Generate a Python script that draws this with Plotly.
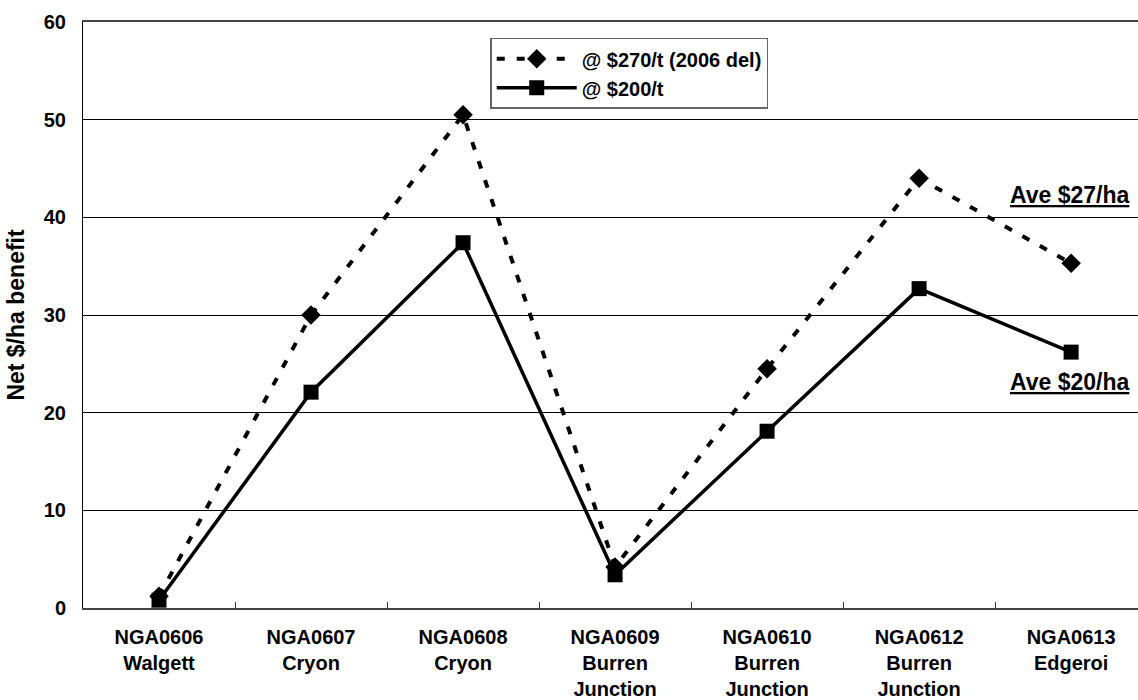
import plotly.graph_objects as go

# Trial sites (code + location)
sites = [
    "NGA0606<br>Walgett",
    "NGA0607<br>Cryon",
    "NGA0608<br>Cryon",
    "NGA0609<br>Burren<br>Junction",
    "NGA0610<br>Burren<br>Junction",
    "NGA0612<br>Burren<br>Junction",
    "NGA0613<br>Edgeroi",
]

# Net benefit ($/ha) at two grain prices
benefit_270 = [1.2, 30.0, 50.5, 4.2, 24.5, 44.0, 35.3]
benefit_200 = [0.8, 22.1, 37.4, 3.4, 18.1, 32.7, 26.2]

name_270 = "@ $270/t (2006 del)"
name_200 = "@ $200/t"
ave_270 = "Ave $27/ha"
ave_200 = "Ave $20/ha"

y_ticks = [0, 10, 20, 30, 40, 50, 60]

FONT = "Liberation Sans, Arial, sans-serif"
labels = ["<b>" + s + "</b>" for s in sites]

fig = go.Figure()
fig.add_trace(go.Scatter(
    x=labels, y=benefit_270, name="<b>" + name_270 + "</b>",
    mode="lines+markers",
    line=dict(color="black", width=4, dash="8px,12px"),
    marker=dict(symbol="diamond", size=15, color="black"),
))
fig.add_trace(go.Scatter(
    x=labels, y=benefit_200, name="<b>" + name_200 + "</b>",
    mode="lines+markers",
    line=dict(color="black", width=3.5),
    marker=dict(symbol="square", size=15, color="black"),
))

fig.add_annotation(x=1.0, y=42.3, xref="paper", yref="y",
                   text="<b><u>" + ave_270 + "</u></b>", showarrow=False,
                   xanchor="right", xshift=-6,
                   font=dict(family=FONT, size=23, color="black"))
fig.add_annotation(x=1.0, y=23.1, xref="paper", yref="y",
                   text="<b><u>" + ave_200 + "</u></b>", showarrow=False,
                   xanchor="right", xshift=-6,
                   font=dict(family=FONT, size=23, color="black"))

fig.update_layout(
    width=1138, height=700,
    margin=dict(l=83, r=0, t=22, b=90),
    paper_bgcolor="white", plot_bgcolor="white",
    font=dict(family=FONT, size=20, color="black"),
    showlegend=True,
    legend=dict(
        x=0.386, y=0.973, xanchor="left", yanchor="top",
        bgcolor="white", bordercolor="#666", borderwidth=1.5,
        font=dict(family=FONT, size=20, color="black"),
        itemwidth=80, tracegroupgap=0,
    ),
    xaxis=dict(
        type="category",
        range=[-0.5, 6.44],
        tickson="boundaries", ticks="inside", ticklen=6,
        tickcolor="#333", tickwidth=1,
        ticklabelstandoff=10,
        showgrid=False, zeroline=False,
        showline=True, linecolor="#444", linewidth=2, mirror=True,
        tickfont=dict(family=FONT, size=20, color="black"),
    ),
    yaxis=dict(
        range=[0, 60], tickvals=y_ticks,
        ticktext=["<b>%d</b>" % v for v in y_ticks],
        showgrid=True, gridcolor="black", gridwidth=1,
        zeroline=False, showline=True, linecolor="black", linewidth=1,
        ticks="", ticklabelstandoff=12,
        tickfont=dict(family=FONT, size=20, color="black"),
        title=dict(text="<b>Net $/ha benefit</b>", standoff=12,
                   font=dict(family=FONT, size=23, color="black")),
    ),
)

fig.write_html("out.html")
